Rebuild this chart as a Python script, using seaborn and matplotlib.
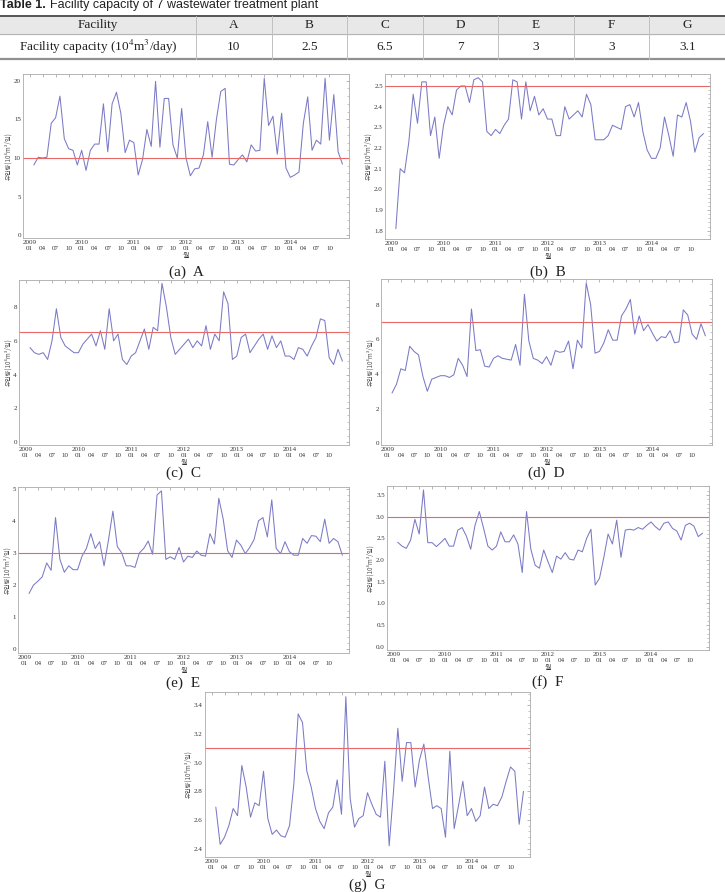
import numpy as np
import pandas as pd
import matplotlib
matplotlib.use("Agg")
import matplotlib.pyplot as plt
import seaborn as sns
from matplotlib.ticker import AutoMinorLocator

# ---------------- data ----------------
facilities = ["A", "B", "C", "D", "E", "F", "G"]
capacities = [10, 2.5, 6.5, 7, 3, 3, 3.1]

inflow_A = [9.1, 10.1, 10.0, 10.1, 14.5, 15.2, 18.0, 12.5, 11.2, 11.0,
            9.1, 11.0, 8.4, 11.0, 11.8, 11.8, 17.0, 10.8, 17.0, 18.5,
            15.8, 10.7, 12.3, 12.0, 7.8, 9.8, 13.7, 11.5, 19.9, 11.4,
            17.7, 17.7, 11.7, 10.0, 16.4, 10.0, 7.7, 8.6, 8.7, 10.4,
            14.7, 10.1, 15.0, 18.6, 19.0, 9.2, 9.1, 9.8, 10.4, 9.5,
            11.7, 10.9, 11.0, 20.3, 14.2, 15.4, 10.5, 15.8, 8.7, 7.5,
            7.8, 8.2, 14.5, 17.9, 11.0, 12.3, 11.8, 20.3, 12.3, 18.2,
            10.8, 9.2]
inflow_B = [1.81, 2.10, 2.08, 2.23, 2.46, 2.32, 2.52, 2.52, 2.26, 2.35,
            2.15, 2.31, 2.40, 2.36, 2.48, 2.50, 2.50, 2.42, 2.53, 2.54,
            2.52, 2.28, 2.26, 2.29, 2.27, 2.31, 2.34, 2.53, 2.52, 2.34,
            2.52, 2.38, 2.45, 2.36, 2.39, 2.34, 2.34, 2.26, 2.26, 2.40,
            2.34, 2.36, 2.38, 2.35, 2.46, 2.41, 2.24, 2.24, 2.24, 2.26,
            2.31, 2.30, 2.29, 2.40, 2.41, 2.35, 2.42, 2.28, 2.19, 2.15,
            2.15, 2.20, 2.35, 2.26, 2.16, 2.36, 2.35, 2.42, 2.33, 2.18,
            2.25, 2.27]
inflow_C = [5.6, 5.3, 5.2, 5.3, 4.9, 6.0, 7.9, 6.2, 5.7, 5.5,
            5.3, 5.3, 5.8, 6.1, 6.4, 5.7, 6.6, 5.5, 7.9, 6.0,
            6.4, 4.9, 4.6, 5.1, 5.3, 6.0, 6.7, 5.5, 6.8, 6.6,
            9.4, 8.0, 6.2, 5.2, 5.5, 5.8, 6.1, 5.6, 6.0, 5.7,
            6.9, 5.5, 6.4, 6.0, 8.9, 8.2, 4.9, 5.1, 6.2, 6.4,
            5.3, 5.7, 6.1, 6.4, 5.5, 6.3, 5.6, 6.0, 5.1, 5.1,
            4.9, 5.6, 5.5, 5.1, 5.7, 6.2, 7.3, 7.2, 5.0, 4.6,
            5.5, 4.8]
inflow_D = [2.9, 3.4, 4.3, 4.2, 5.6, 5.3, 5.1, 3.85, 3.0, 3.7,
            3.8, 3.9, 3.9, 3.8, 3.95, 4.9, 4.5, 3.85, 7.75, 5.35,
            5.4, 4.45, 4.4, 4.9, 5.05, 4.9, 4.85, 4.8, 5.7, 4.5,
            8.6, 5.9, 4.9, 4.8, 4.6, 5.0, 4.5, 5.35, 5.25, 5.3,
            5.9, 4.3, 5.95, 5.5, 9.25, 8.0, 5.2, 5.3, 5.8, 6.55,
            5.95, 5.95, 7.35, 7.75, 8.3, 6.3, 7.35, 6.5, 6.85, 6.35,
            5.9, 6.15, 6.1, 6.5, 5.8, 5.85, 7.7, 7.4, 6.3, 6.0,
            6.9, 6.2]
inflow_E = [1.74, 2.0, 2.12, 2.26, 2.69, 2.46, 4.1, 2.8, 2.4, 2.6,
            2.48, 2.48, 2.9, 3.14, 3.6, 3.14, 3.35, 2.6, 3.4, 4.3,
            3.2, 3.0, 2.6, 2.6, 2.55, 3.0, 3.14, 3.37, 2.96, 4.8,
            4.93, 2.8, 2.88, 2.8, 3.17, 2.72, 2.9, 2.86, 3.06, 2.93,
            2.9, 3.6, 3.28, 4.7, 4.05, 3.07, 2.86, 3.4, 3.24, 2.98,
            3.17, 3.42, 4.0, 4.1, 3.5, 4.65, 3.14, 2.98, 3.35, 3.04,
            2.93, 2.93, 3.45, 3.3, 3.54, 3.52, 3.35, 4.05, 3.3, 3.45,
            3.35, 2.93]
inflow_F = [2.41, 2.32, 2.27, 2.46, 2.94, 2.60, 3.62, 2.40, 2.40, 2.31,
            2.40, 2.50, 2.32, 2.32, 2.69, 2.75, 2.55, 2.25, 2.80, 3.12,
            2.73, 2.32, 2.23, 2.32, 2.65, 2.42, 2.42, 2.58, 2.37, 1.71,
            3.12, 2.25, 1.88, 1.81, 2.23, 1.96, 1.71, 2.09, 2.02, 2.17,
            2.02, 2.00, 2.23, 2.19, 2.50, 2.71, 1.42, 1.58, 2.06, 2.60,
            2.37, 2.92, 2.06, 2.69, 2.71, 2.69, 2.75, 2.71, 2.80, 2.88,
            2.77, 2.69, 2.85, 2.88, 2.73, 2.67, 2.46, 2.80, 2.85, 2.78,
            2.54, 2.62]
inflow_G = [2.69, 2.43, 2.48, 2.56, 2.68, 2.63, 2.98, 2.83, 2.62, 2.72,
            2.70, 2.94, 2.61, 2.50, 2.53, 2.49, 2.48, 2.56, 2.85, 3.34,
            3.28, 2.94, 2.83, 2.68, 2.59, 2.54, 2.65, 2.69, 2.88, 2.64,
            3.46, 2.75, 2.55, 2.61, 2.63, 2.79, 2.71, 2.64, 2.62, 3.01,
            2.42, 2.80, 3.24, 2.87, 3.14, 3.14, 2.83, 3.02, 3.13, 2.90,
            2.68, 2.70, 2.68, 2.48, 3.08, 2.54, 2.70, 2.87, 2.63, 2.68,
            2.59, 2.63, 2.83, 2.68, 2.71, 2.70, 2.76, 2.87, 2.97, 2.94,
            2.57, 2.80]

series = [inflow_A, inflow_B, inflow_C, inflow_D, inflow_E, inflow_F, inflow_G]
captions = ["(a)  A", "(b)  B", "(c)  C", "(d)  D", "(e)  E", "(f)  F", "(g)  G"]
month_names = ["01", "04", "07", "10"]
start_year = 2009

# ---------------- style ----------------
sns.set_style("white")
plt.rcParams["font.family"] = ["Liberation Serif", "DejaVu Serif"]
plt.rcParams["mathtext.fontset"] = "stix"
KR = ["Noto Sans CJK KR", "DejaVu Sans"]
LINE_C = "#7a7ac6"
CAP_C = "#e86868"

W, H = 725, 892
fig = plt.figure(figsize=(W / 100, H / 100), dpi=100)


def rect(l, t, r, b):
    return [l / W, 1 - b / H, (r - l) / W, (b - t) / H]


# (left, top, right, bottom), ylim, yticks, fmt, caption y
layout = [
    ((23, 74, 349, 238), (-0.34, 20.86), np.arange(0, 21, 5), "{:.0f}", 272),
    ((385, 74, 710, 239), (1.76, 2.558), np.arange(1.8, 2.51, 0.1), "{:.1f}", 272),
    ((19, 280, 349, 445), (-0.16, 9.6), np.arange(0, 9, 2), "{:.0f}", 473),
    ((381, 279, 712, 445), (-0.1, 9.48), np.arange(0, 9, 2), "{:.0f}", 473),
    ((18, 487, 349, 653), (-0.11, 5.05), np.arange(0, 6, 1), "{:.0f}", 683),
    ((387, 486, 709, 650), (-0.08, 3.71), np.arange(0, 3.6, 0.5), "{:.1f}", 682),
    ((205, 692, 530, 857), (2.342, 3.493), np.arange(2.4, 3.41, 0.2), "{:.1f}", 885),
]

tick_idx = np.arange(0, 70, 3)
tick_labels = [
    (f"{start_year + i // 12}\n" if i % 12 == 0 else "\n") + month_names[(i % 12) // 3]
    for i in tick_idx
]

for k, (vals, cap, cap_text, (box, ylim, yt, fmt, cy)) in enumerate(
        zip(series, capacities, captions, layout)):
    ax = fig.add_axes(rect(*box))
    df = pd.DataFrame({"month": np.arange(1, len(vals) + 1), "inflow": vals})
    sns.lineplot(data=df, x="month", y="inflow", ax=ax, color=LINE_C, linewidth=0.75)
    ax.axhline(cap, color=CAP_C, linewidth=0.8)
    ax.set_xlim(-1.5, 73.5)
    ax.set_ylim(*ylim)
    ax.set_xticks(tick_idx, tick_labels)
    for lbl in ax.get_xticklabels():
        lbl.set_linespacing(1.35)
    ax.set_yticks(yt, [fmt.format(v) for v in yt])
    ax.yaxis.set_minor_locator(AutoMinorLocator(5))
    ax.tick_params(axis="both", which="both", direction="in", top=True, right=True,
                   labelsize=5, colors="#999999", labelcolor="#333333", pad=1.5)
    ax.tick_params(which="major", length=2.2, width=0.5)
    ax.tick_params(which="minor", length=1.1, width=0.4)
    for sp in ax.spines.values():
        sp.set_color("#aaaaaa")
        sp.set_linewidth(0.6)
    ax.set_xlabel("월", fontsize=5, family=KR, labelpad=0.5, color="#333333")
    ax.set_ylabel("유입량(10⁴m³/일)", fontsize=4.5, family=KR, labelpad=1, color="#555555")
    l, t, r, b = box
    fig.text((l + r) / 2 / W, 1 - cy / H, cap_text, ha="center", va="center",
             fontsize=11, color="#222222")

# ---------------- table ----------------
tab = fig.add_axes([0, 0, 1, 1], zorder=-1)
tab.set_xlim(0, W)
tab.set_ylim(H, 0)
tab.axis("off")
NARROW = ["Liberation Sans Narrow", "Liberation Sans", "DejaVu Sans"]
t1 = tab.text(0, 5, "Table 1.", fontsize=9, fontweight="bold", family=NARROW,
              va="center", ha="left", color="#222222")
fig.canvas.draw()
bb = t1.get_window_extent().transformed(tab.transData.inverted())
tab.text(bb.x1 + 4, 5, "Facility capacity of 7 wastewater treatment plant",
         fontsize=9, family=NARROW, va="center", ha="left", color="#222222")

top, mid, bot = 16, 34, 59
first_w = 196
col_w = (W - first_w) / len(facilities)
tab.fill_between([0, W], top, mid, color="#e8e8e8", zorder=0)
tab.plot([0, W], [top, top], color="#555555", lw=1.4)
tab.plot([0, W], [mid, mid], color="#b5b5b5", lw=0.8)
tab.plot([0, W], [bot, bot], color="#909090", lw=1.6)
for j in range(len(facilities)):
    x = first_w + j * col_w
    tab.plot([x, x], [top, bot], color="#c0c0c0", lw=0.7)
tab.text(first_w / 2, (top + mid) / 2, "Facility", ha="center", va="center",
         fontsize=9.5, color="#222222")
tab.text(first_w / 2, (mid + bot) / 2, r"Facility capacity (10$^4$m$^3$/day)",
         ha="center", va="center", fontsize=9.5, color="#222222")
for j, (fac, cap) in enumerate(zip(facilities, capacities)):
    cx = first_w + (j + 0.5) * col_w
    tab.text(cx, (top + mid) / 2, fac, ha="center", va="center", fontsize=9.5, color="#222222")
    tab.text(cx, (mid + bot) / 2, f"{cap:g}", ha="center", va="center", fontsize=9.5,
             color="#222222")

fig.savefig("out.png", dpi=100)
